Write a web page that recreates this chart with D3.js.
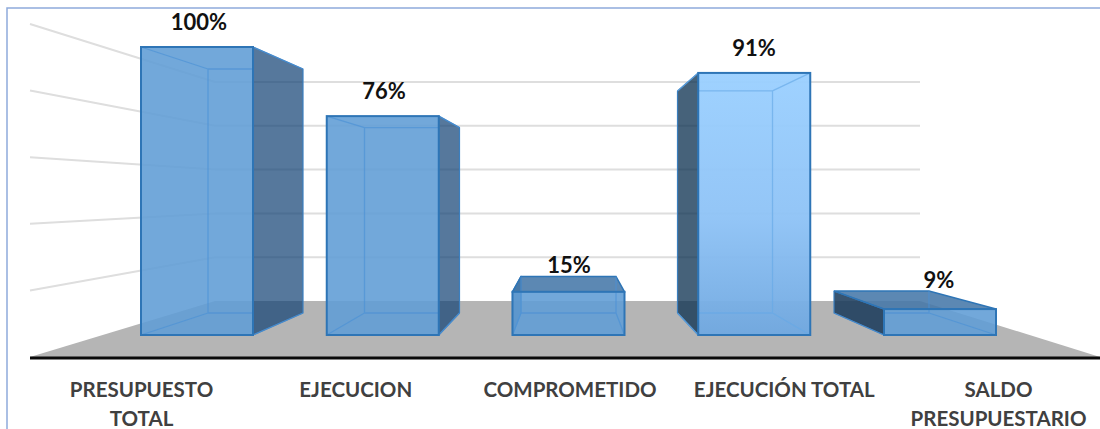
<html>
  <head>
    <meta charset="utf-8">
    <title>Presupuesto</title>
    <script src="https://cdn.jsdelivr.net/npm/d3@7"></script>
    <style>
      html, body { margin: 0; padding: 0; background: #fff; overflow: hidden; }
      text { font-family: Lato, "Open Sans", sans-serif; font-weight: 700; }
    </style>
  </head>
  <body>
    <script>
// Datos
const categories = ["PRESUPUESTO TOTAL", "EJECUCION", "COMPROMETIDO", "EJECUCIÓN TOTAL", "SALDO PRESUPUESTARIO"];
const values = [100, 76, 15, 91, 9];
const gridTicks = [20, 40, 60, 80, 100];

const w = 1100;
const h = 429;

const svg = d3.select("body").append("svg")
  .attr("width", w)
  .attr("height", h);

// Falso 3D: una escala para la cara frontal y otra para la cara de atras
const frontX = d3.scaleBand().domain(categories).range([141, 996]).paddingInner(0.397);
const backX = d3.scaleBand().domain(categories).range([208, 929]).paddingInner(0.393);
const frontY = d3.scaleLinear().domain([0, 100]).range([335, 47]);
const backY = d3.scaleLinear().domain([0, 100]).range([313, 69]);

// Paredes del grafico
const wallY = d3.scaleLinear().domain([0, 100]).range([301, 82]);
const sideY = d3.scaleLinear().domain([0, 100]).range([357, 24]);
const labelX = d3.scalePoint().domain(categories).range([141, 998]);
const valueX = d3.scalePoint().domain(categories).range([199, 939]);

const defs = svg.append("defs");
const grad = defs.append("linearGradient").attr("id", "light").attr("x1", 0).attr("y1", 0).attr("x2", 0).attr("y2", 1);
grad.append("stop").attr("offset", "0%").attr("stop-color", "#9bd0ff");
grad.append("stop").attr("offset", "55%").attr("stop-color", "#8fc3f6");
grad.append("stop").attr("offset", "100%").attr("stop-color", "#70a8e0");

const poly = pts => d3.line()(pts) + "Z";

// Marco
svg.append("path")
  .attr("d", "M7,429V8H1100")
  .attr("fill", "none")
  .attr("stroke", "#8faadc")
  .attr("stroke-width", 1.5);

// Piso
svg.append("path")
  .attr("d", poly([[30, sideY(0)], [215, wallY(0)], [920, wallY(0)], [1100, sideY(0)]]))
  .attr("fill", "#b5b5b5");

// Lineas de cuadricula
const grid = svg.append("g").attr("fill", "none").attr("stroke", "#dedede").attr("stroke-width", 2);
grid.selectAll("path")
  .data(gridTicks)
  .enter()
  .append("path")
  .attr("d", d => d3.line()([[30, sideY(d)], [215, wallY(d)], [920, wallY(d)]]));

// Barras
const bars = svg.selectAll("g.bar")
  .data(categories.map((c, i) => ({ c: c, v: values[i], i: i })))
  .enter()
  .append("g")
  .attr("class", "bar");

bars.each(function(d) {
  const g = d3.select(this);
  const fx0 = frontX(d.c), fx1 = fx0 + frontX.bandwidth();
  const bx0 = backX(d.c), bx1 = bx0 + backX.bandwidth();
  const ft = frontY(d.v), fb = frontY(0);
  const bt = backY(d.v), bb = backY(0);
  const light = d.i === 3;
  const low = d.i === 4;
  const dark = light ? "#0c3050" : (low ? "#1c3c5c" : "#154476");

  // Cara lateral (derecha o izquierda segun la posicion)
  const right = bx1 > fx1;
  const sx0 = right ? fx1 : fx0;
  const sx1 = right ? bx1 : bx0;
  g.append("path")
    .attr("d", poly([[sx0, ft], [sx1, bt], [sx1, bb], [sx0, fb]]))
    .attr("fill", dark)
    .attr("fill-opacity", light ? 0.76 : (low ? 0.88 : 0.72))
    .attr("stroke", "#3b7fbf")
    .attr("stroke-width", 1.2)
    .attr("stroke-linejoin", "round");

  // Tapa, solo se ve desde arriba en las barras bajas
  if (bt < ft) {
    g.append("path")
      .attr("d", poly([[fx0, ft], [fx1, ft], [bx1, bt], [bx0, bt]]))
      .attr("fill", "#4677a8")
      .attr("fill-opacity", 0.88)
      .attr("stroke", "#2e75b6")
      .attr("stroke-width", 1.5);
  }

  // Cara frontal
  g.append("rect")
    .attr("x", fx0)
    .attr("y", ft)
    .attr("width", fx1 - fx0)
    .attr("height", fb - ft)
    .attr("fill", light ? "url(#light)" : "#619dd5")
    .attr("fill-opacity", light ? 0.96 : 0.89);

  // Aristas interiores, sin cruzar la cara lateral
  const ix0 = Math.max(bx0, fx0), ix1 = Math.min(bx1, fx1);
  let edges = `M${ix0},${bb}H${ix1} M${fx0},${fb}L${bx0},${bb} M${fx1},${fb}L${bx1},${bb}`;
  if (bt > ft) edges += ` M${ix0},${bt}H${ix1} M${fx0},${ft}L${bx0},${bt} M${fx1},${ft}L${bx1},${bt}`;
  if (bx0 > fx0) edges += ` M${bx0},${bt}V${bb}`;
  if (bx1 < fx1) edges += ` M${bx1},${bt}V${bb}`;
  g.append("path")
    .attr("d", edges)
    .attr("fill", "none")
    .attr("stroke", light ? "#66a9e6" : "#4a90d6")
    .attr("stroke-opacity", 0.65)
    .attr("stroke-width", 1.3);

  g.append("rect")
    .attr("x", fx0)
    .attr("y", ft)
    .attr("width", fx1 - fx0)
    .attr("height", fb - ft)
    .attr("fill", "none")
    .attr("stroke", "#2e75b6")
    .attr("stroke-width", 2);

  // Etiqueta de valor
  g.append("text")
    .attr("x", valueX(d.c))
    .attr("y", Math.min(ft, bt) - (d.v > 50 ? 17 : 3))
    .attr("text-anchor", "middle")
    .attr("font-size", "22px")
    .attr("fill", "#111")
    .text(d.v + "%");
});

// Eje horizontal
const xAxis = d3.axisBottom(labelX).tickSize(0).tickPadding(0);
const axisG = svg.append("g")
  .attr("transform", "translate(0," + sideY(0) + ")")
  .call(xAxis);
axisG.select(".domain").remove();
axisG.selectAll("text")
  .attr("font-size", "20.5px")
  .attr("fill", "#404040")
  .attr("dy", null)
  .each(function(d) {
    const t = d3.select(this);
    // Solo estas dos etiquetas van en dos lineas
    const lines = d === "PRESUPUESTO TOTAL" || d === "SALDO PRESUPUESTARIO" ? d.split(" ") : [d];
    t.text(null);
    lines.forEach((s, i) => {
      t.append("tspan").attr("x", 0).attr("y", 40 + i * 29).text(s);
    });
  });

svg.append("line")
  .attr("x1", 30).attr("x2", 1100)
  .attr("y1", sideY(0) + 1).attr("y2", sideY(0) + 1)
  .attr("stroke", "#0a0a0a")
  .attr("stroke-width", 3);
    </script>
  </body>
</html>
